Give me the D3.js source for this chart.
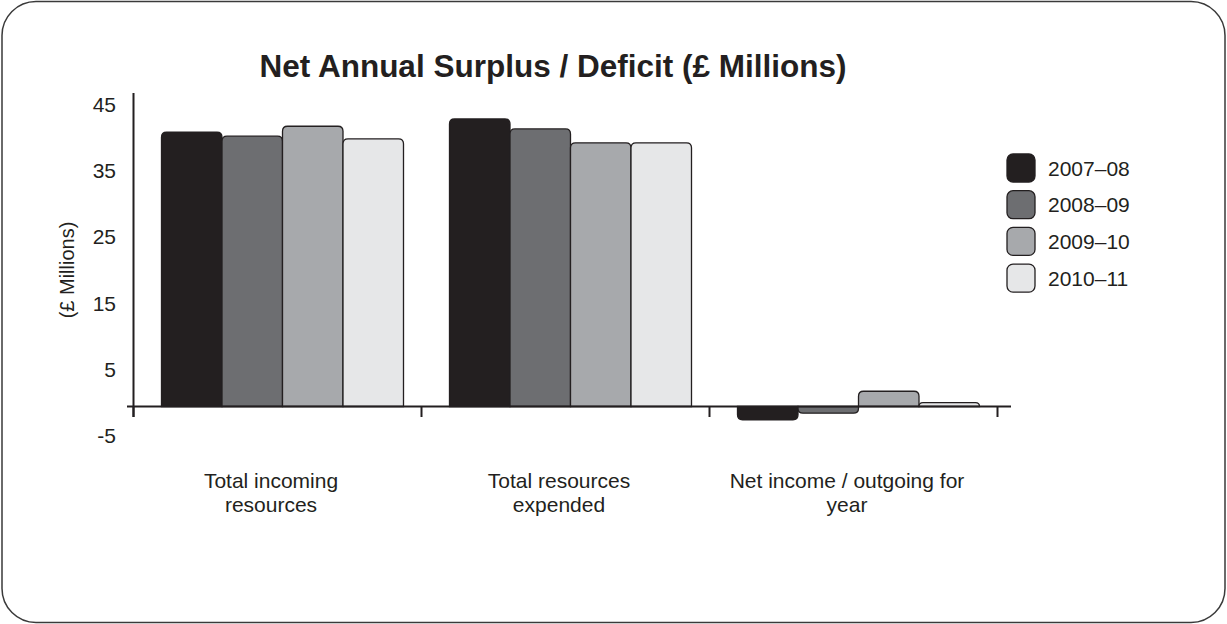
<!DOCTYPE html>
<html>
<head>
<meta charset="utf-8">
<script src="https://cdn.jsdelivr.net/npm/d3@7"></script>
<style>
  html, body { margin: 0; padding: 0; background: #fff; }
  svg text { font-family: "Liberation Sans", Arial, Helvetica, sans-serif; fill: #231f20; }
</style>
</head>
<body>
<div id="chart"></div>
<script>
var categories = [["Total incoming", "resources"], ["Total resources", "expended"], ["Net income / outgoing for", "year"]];
var years = ["2007\u201308", "2008\u201309", "2009\u201310", "2010\u201311"];
var values = [
    [41.4, 40.8, 42.3, 40.4],
    [43.4, 41.9, 39.8, 39.8],
    [-2.0, -1.0, 2.3, 0.6]
];
var tickValues = [-5, 5, 15, 25, 35, 45];
var colors = ["#231f20", "#6d6e71", "#a7a9ac", "#e6e7e8"];

var W = 1227, H = 624;

var svg = d3.select("#chart")
  .append("svg")
    .attr("width", W)
    .attr("height", H);

// outer rounded frame
svg.append("rect")
    .attr("x", 2).attr("y", 1.5)
    .attr("width", W - 4).attr("height", H - 3)
    .attr("rx", 34).attr("ry", 34)
    .style("fill", "#fff")
    .style("stroke", "#3a3a3a")
    .style("stroke-width", 1.5);

svg.append("text")
    .attr("x", 553).attr("y", 76.5)
    .attr("text-anchor", "middle")
    .style("font-size", "31.5px")
    .style("font-weight", "bold")
    .text("Net Annual Surplus / Deficit (\u00a3 Millions)");

var x0 = d3.scaleBand()
    .domain(d3.range(categories.length))
    .range([133, 997]);

var x1 = d3.scaleBand()
    .domain(d3.range(years.length))
    .range([28.5, 28.5 + 242]);

var y = d3.scaleLinear()
    .domain([0, 45])
    .range([406.5, 406.5 - 45 * 6.625]);

function barPath(x, w, v) {
    var r = Math.min(5, Math.abs(y(v) - y(0)));
    var base = y(0), end = y(v);
    var s = v >= 0 ? 1 : -1;
    return "M" + x + "," + base +
        "V" + (end + s * r) +
        "Q" + x + "," + end + " " + (x + r) + "," + end +
        "H" + (x + w - r) +
        "Q" + (x + w) + "," + end + " " + (x + w) + "," + (end + s * r) +
        "V" + base + "Z";
}

var groups = svg.append("g")
    .selectAll("g")
    .data(values)
    .enter()
    .append("g")
        .attr("transform", function(d, i) { return "translate(" + x0(i) + ",0)"; });

groups.selectAll("path")
    .data(function(d) { return d; })
    .enter()
    .append("path")
        .attr("d", function(d, j) { return barPath(x1(j), x1.bandwidth(), d); })
        .style("fill", function(d, j) { return colors[j]; })
        .style("stroke", "#231f20")
        .style("stroke-width", 1.3);

// value axis
svg.append("line")
    .attr("x1", 133.5).attr("x2", 133.5)
    .attr("y1", 93).attr("y2", 417)
    .style("stroke", "#231f20").style("stroke-width", 2);

svg.append("g")
    .selectAll("text")
    .data(tickValues)
    .enter()
    .append("text")
        .attr("x", 116)
        .attr("y", function(d) { return y(d) + 3.5; })
        .attr("text-anchor", "end")
        .style("font-size", "21px")
        .text(function(d) { return d; });

svg.append("text")
    .attr("transform", "translate(74,270) rotate(-90)")
    .attr("text-anchor", "middle")
    .style("font-size", "20px")
    .text("(\u00a3 Millions)");

// category axis
svg.append("line")
    .attr("x1", 127).attr("x2", 1011)
    .attr("y1", y(0)).attr("y2", y(0))
    .style("stroke", "#231f20").style("stroke-width", 2);

svg.append("g")
    .selectAll("line")
    .data(d3.range(categories.length + 1))
    .enter()
    .append("line")
        .attr("x1", function(d) { return 133 + d * x0.bandwidth() + 0.5; })
        .attr("x2", function(d) { return 133 + d * x0.bandwidth() + 0.5; })
        .attr("y1", y(0)).attr("y2", 417)
        .style("stroke", "#231f20").style("stroke-width", 2);

var catLabels = svg.append("g")
    .selectAll("text")
    .data(categories)
    .enter()
    .append("text")
        .attr("text-anchor", "middle")
        .style("font-size", "21px");

catLabels.selectAll("tspan")
    .data(function(d, i) { return d.map(function(s) { return [s, i]; }); })
    .enter()
    .append("tspan")
        .attr("x", function(d) { return x0(d[1]) + x0.bandwidth() / 2 - 6; })
        .attr("y", function(d, k) { return 488 + k * 24; })
        .text(function(d) { return d[0]; });

// legend
var legend = svg.append("g")
    .selectAll("g")
    .data(years)
    .enter()
    .append("g")
        .attr("transform", function(d, i) { return "translate(1007," + (154 + i * 36.7) + ")"; });

legend.append("rect")
    .attr("width", 28).attr("height", 28)
    .attr("rx", 6).attr("ry", 6)
    .style("fill", function(d, i) { return colors[i]; })
    .style("stroke", "#231f20")
    .style("stroke-width", 1.3);

legend.append("text")
    .attr("x", 41).attr("y", 21.5)
    .style("font-size", "21px")
    .text(function(d) { return d; });
</script>
</body>
</html>
